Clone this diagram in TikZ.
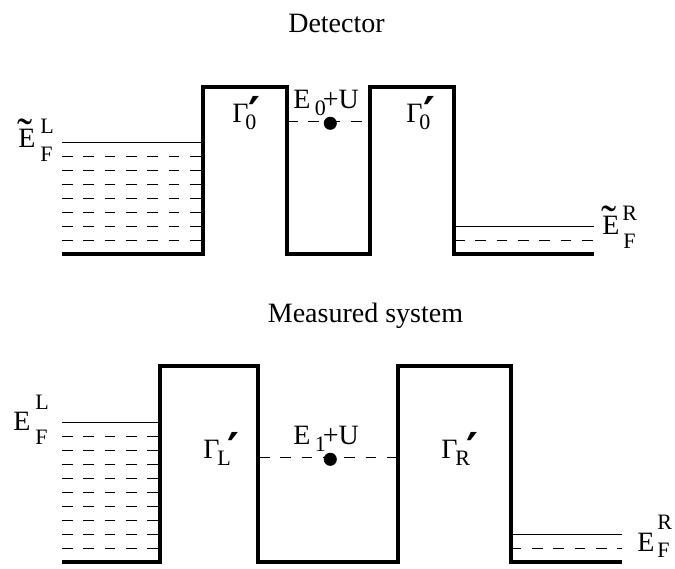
\documentclass[tikz,border=0pt]{standalone}
\usepackage{fontspec}
\setmainfont{Liberation Serif}
\newfontfamily\primefont{DejaVu Sans}
\newcommand{\tildeE}{\rlap{\hspace*{-0.75pt}\raisebox{-1.5pt}{\fontsize{34}{34}\selectfont ˜}}E}
\tikzset{
  barrier/.style={line width=3pt},
  fermi/.style={line width=1pt},
  filled/.style={line width=1pt,dash pattern=on 8pt off 8pt},
  lab/.style={anchor=base west,inner sep=0pt,font=\fontsize{21}{21}\selectfont},
  sublab/.style={anchor=base west,inner sep=0pt,font=\fontsize{16.5}{17}\selectfont},
  primelab/.style={anchor=center,inner sep=0pt,font=\fontsize{34}{34}\selectfont\primefont\bfseries},
  electron/.style={circle,fill=black,inner sep=0pt,minimum size=9.8pt}
}
\begin{document}
\begin{tikzpicture}[x=0.75pt,y=-0.75pt]
      \useasboundingbox (0,0) rectangle (675,568);
      % detector
      \draw
        (336.5,32) node[lab,anchor=base] (dettitle){Detector}
        (18,147) node[lab] (detEL){\tildeE}
        (40,133) node[sublab] (detELsup){L}
        (40,161) node[sublab] (detELsub){F}
        (602,234) node[lab] (detER){\tildeE}
        (622,220) node[sublab] (detERsup){R}
        (623,248) node[sublab] (detERsub){F}
        (232,122) node[lab] (detGL){Γ}
        (245,129) node[sublab] (detGLsub){0}
        (254,113) node[primelab] (detGLprime){′}
        (406,122) node[lab] (detGR){Γ}
        (419,129) node[sublab] (detGRsub){0}
        (429,113) node[primelab] (detGRprime){′}
        (293,108) node[lab] (detlevel){E}
        (314.5,115) node[sublab] (detlevelsub){0}
        (322.5,108) node[lab] (detlevelU){+U};
      \begin{scope}[filled]
        \draw (62,156.3) to (203,156.3);
        \draw (62,170.3) to (203,170.3);
        \draw (62,184.3) to (203,184.3);
        \draw (62,198.3) to (203,198.3);
        \draw (62,212.3) to (203,212.3);
        \draw (62,226.3) to (203,226.3);
        \draw (62,240.3) to (203,240.3);
        \draw (454,240.3) to (594,240.3);
        \draw (287,121.7) to (370,121.7);
      \end{scope}
      \draw[fermi] (62,142.3) to (203,142.3);
      \draw[fermi] (454,226.3) to (594,226.3);
      \draw[barrier] (62,254) -- (202.5,254) -- (202.5,86.7) -- (286.7,86.7) -- (286.7,254)
        -- (370,254) -- (370,86.7) -- (454,86.7) -- (454,254) -- (594,254);
      \node[electron] (detdot) at (330.3,123.3) {};
      % measured system
      \draw
        (365.5,322) node[lab,anchor=base] (sysstitle){Measured system}
        (13,430) node[lab] (sysEL){E}
        (35,409) node[sublab] (sysELsup){L}
        (35,444) node[sublab] (sysELsub){F}
        (637,551) node[lab] (sysER){E}
        (657,529) node[sublab] (sysERsup){R}
        (657,557) node[sublab] (sysERsub){F}
        (203,458) node[lab] (sysGL){Γ}
        (217,465) node[sublab] (sysGLsub){L}
        (233,449) node[primelab] (sysGLprime){′}
        (441,458) node[lab] (sysGR){Γ}
        (455,465) node[sublab] (sysGRsub){R}
        (472,449) node[primelab] (sysGRprime){′}
        (293,444) node[lab] (syslevel){E}
        (314.5,451) node[sublab] (syslevelsub){1}
        (322.5,444) node[lab] (syslevelU){+U};
      \begin{scope}[filled]
        \draw (62,436.3) to (160.3,436.3);
        \draw (62,450.3) to (160.3,450.3);
        \draw (62,464.3) to (160.3,464.3);
        \draw (62,478.3) to (160.3,478.3);
        \draw (62,492.3) to (160.3,492.3);
        \draw (62,506.3) to (160.3,506.3);
        \draw (62,520.3) to (160.3,520.3);
        \draw (62,534.3) to (160.3,534.3);
        \draw (62,548.3) to (160.3,548.3);
        \draw (510.7,548.3) to (622,548.3);
        \draw (259,457.7) to (398,457.7);
      \end{scope}
      \draw[fermi] (62,422.3) to (160.3,422.3);
      \draw[fermi] (510.7,534.3) to (622,534.3);
      \draw[barrier] (62,562.3) -- (160.3,562.3) -- (160.3,366.3) -- (258.3,366.3) -- (258.3,562.3)
        -- (398.3,562.3) -- (398.3,366.3) -- (510.7,366.3) -- (510.7,562.3) -- (622,562.3);
      \node[electron] (sysdot) at (330.3,459.3) {};
    \end{tikzpicture}
\end{document}
